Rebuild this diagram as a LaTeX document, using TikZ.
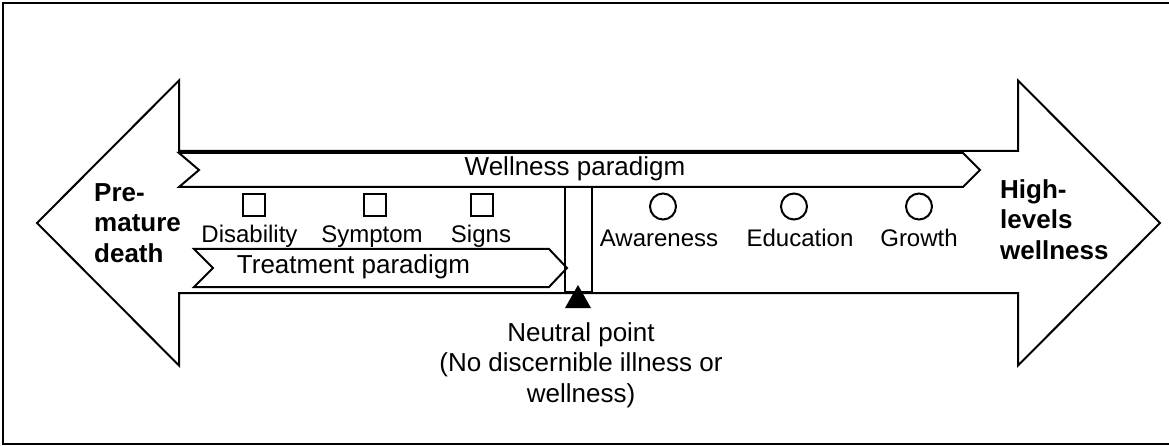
\documentclass[tikz,border=0pt]{standalone}
\usepackage{fontspec}
\setmainfont{Liberation Sans}
\begin{document}
\begin{tikzpicture}[x=1pt,y=-1pt,
  outline/.style={draw=black,line width=2pt,line join=miter},
  bigtxt/.style={inner sep=0pt,font=\fontsize{26}{30.5}\selectfont},
  boldtxt/.style={inner sep=0pt,font=\fontsize{26}{30.5}\selectfont\bfseries,align=left,anchor=north west},
  labtxt/.style={inner sep=0pt,font=\fontsize{24}{28}\selectfont,anchor=base},
  sqmark/.style={draw=black,line width=2pt,minimum width=22pt,minimum height=22pt,inner sep=0pt},
  circmark/.style={draw=black,line width=2pt,circle,minimum size=26pt,inner sep=0pt}]
\useasboundingbox (0,0) rectangle (1169,446);
% frame
\draw[line width=2pt] (1172,3) -- (3,3) -- (3,444) -- (1172,444);
% double arrow
\draw[outline] (37,223) -- (179,80.5) -- (179,151) -- (1018,151) -- (1018,80.5)
  -- (1160,223) -- (1018,365.5) -- (1018,293) -- (179,293) -- (179,365.5) -- cycle;
% wellness chevron
\draw[outline,fill=white] (179,153) -- (963,153) -- (980,170) -- (963,187) -- (179,187) -- (199,170) -- cycle;
\node[bigtxt,anchor=base] (well) at (575,176) {Wellness paradigm};
% treatment chevron
\draw[outline,fill=white] (194,249) -- (549,249) -- (567,268) -- (549,287) -- (194,287) -- (213,268) -- cycle;
\node[bigtxt,anchor=base] (treat) at (353.5,273) {Treatment paradigm};
% neutral bar
\draw[outline] (565,187) rectangle (592,292);
\fill (578,285) -- (591,308) -- (565,308) -- cycle;
% squares
\node[sqmark] (sq1) at (254,205.5) {};
\node[sqmark] (sq2) at (375,205.5) {};
\node[sqmark] (sq3) at (482,205.5) {};
\node[labtxt] (dis) at (249.5,243) {Disability};
\node[labtxt] (sym) at (372,243) {Symptom};
\node[labtxt] (sig) at (481,243) {Signs};
% circles
\node[circmark] (c1) at (663,206.5) {};
\node[circmark] (c2) at (794,206.5) {};
\node[circmark] (c3) at (919,206.5) {};
\node[labtxt] (awa) at (659,247) {Awareness};
\node[labtxt] (edu) at (800,247) {Education};
\node[labtxt] (gro) at (919,247) {Growth};
% end labels
\node[boldtxt] (pre) at (94,183.3) {Pre-\\mature\\death};
\node[boldtxt] (high) at (1000,179.4) {High-\\levels\\wellness};
% neutral text
\node[bigtxt,align=center,anchor=north] (neut) at (581,322.4) {Neutral point\\(No discernible illness or\\wellness)};
\end{tikzpicture}
\end{document}
